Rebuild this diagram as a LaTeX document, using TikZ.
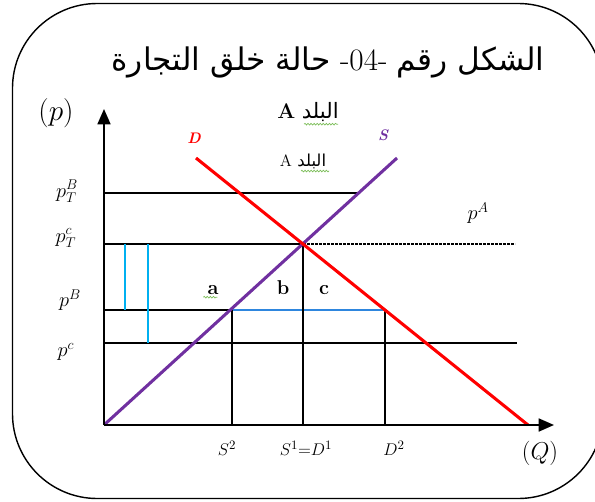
\documentclass[tikz,border=0pt]{standalone}
\usepackage{fontspec}
\usetikzlibrary{arrows.meta,decorations.pathmorphing}
\newfontfamily\arabicfont[Script=Arabic]{DejaVu Sans}
\TeXXeTstate=1
\definecolor{red600}   {HTML}{FF0000}
\definecolor{violet600}{HTML}{7030A0}
\definecolor{cyan500}  {HTML}{00B0F0}
\definecolor{blue500}  {HTML}{2E86DE}
\definecolor{green400} {HTML}{7DBE5A}
\newcommand{\country}[1]{\beginR{\arabicfont البلد} {\rmfamily #1}\endR}
\tikzset{
  frame/.style ={draw=black, line width=1.2pt, rounded corners=72pt},
  axis/.style  ={-{Triangle[length=13pt,width=11pt]}, draw=black,
                 line width=1.6pt},
  hline/.style ={draw=black, line width=1.2pt},
  dotline/.style={draw=black, line width=1.2pt,
                 dash pattern=on 2.4pt off 1pt},
  cyanl/.style ={draw=cyan500, line width=1.5pt},
  bluel/.style ={draw=blue500, line width=1.6pt},
  supply/.style={draw=violet600, line width=2.6pt},
  demand/.style={draw=red600, line width=2.6pt},
  squig/.style ={draw=green400, line width=0.6pt, decorate,
                 decoration={snake, amplitude=0.7pt, segment length=2.6pt}},
  ttl/.style   ={font=\fontsize{26.5}{30}\selectfont, inner sep=0pt},
  plbl/.style  ={font=\fontsize{18}{21}\selectfont, inner sep=0pt},
  qlbl/.style  ={font=\fontsize{15}{18}\selectfont, inner sep=0pt},
  area/.style  ={font=\fontsize{17}{20}\selectfont\bfseries, inner sep=0pt},
  curve/.style ={font=\fontsize{13}{16}\selectfont\bfseries\itshape,
                 inner sep=0pt}
}
\begin{document}
\begin{tikzpicture}[x=0.85pt,y=-0.85pt]
\useasboundingbox (0,0) rectangle (595,501);
\draw[frame] (12.5,3.5) rectangle (603,498.5);

\node[ttl] (title) at (328,62)
  {\beginR{\arabicfont الشكل رقم} \beginL-04-\endL{} {\arabicfont حالة خلق التجارة}\endR};

% points of the market, in pixels of the figure
\coordinate (O)     at (104,425);
\coordinate (ytip)  at (104,109);
\coordinate (xtip)  at (554,425);
\coordinate (E)     at (303,244);
\coordinate (S2)    at (232,310);
\coordinate (D2)    at (385,310);
\coordinate (Stop)  at (397,158);
\coordinate (Dtop)  at (196,158);
\coordinate (Dbot)  at (528,425);
\coordinate (yTB)   at (104,193);
\coordinate (yTc)   at (104,244);
\coordinate (yB)    at (104,310);
\coordinate (yc)    at (104,343);
\coordinate (TBend) at (359,193);
\coordinate (Tcend) at (515,244);
\coordinate (cend)  at (517,343);
\coordinate (xS2)   at (232,425);
\coordinate (xE)    at (303,425);
\coordinate (xD2)   at (385,425);
\coordinate (k1top) at (125,244);
\coordinate (k1bot) at (125,310);
\coordinate (k2top) at (148,244);
\coordinate (k2bot) at (148,343);

\draw[hline]   (yTB) -- (TBend);
\draw[hline]   (yTc) -- (E);
\draw[dotline] (E) -- (Tcend);
\draw[hline]   (yB) -- (S2);
\draw[bluel]   (S2) -- (D2);
\draw[hline]   (yc) -- (cend);
\draw[hline]   (S2) -- (xS2);
\draw[hline]   (E) -- (xE);
\draw[hline]   (D2) -- (xD2);
\draw[cyanl]   (k1top) -- (k1bot);
\draw[cyanl]   (k2top) -- (k2bot);
\draw[supply]  (O) -- (Stop);
\draw[demand]  (Dtop) -- (Dbot);
\draw[axis]    (O) -- (ytip);
\draw[axis]    (O) -- (xtip);

\node[curve, text=red600]    (Dlbl) at (194,138) {D};
\node[curve, text=violet600] (Slbl) at (383,135) {S};
\node[font=\fontsize{18}{21}\selectfont, inner sep=0pt] (cA1) at (308,112)
  {\beginR{\arabicfont البلد} {\rmfamily\bfseries A}\endR};
\node[font=\fontsize{14}{17}\selectfont, inner sep=0pt] (cA2) at (303,161)
  {\country{A}};

\node[font=\fontsize{26}{30}\selectfont, inner sep=0pt] (pax) at (56,113) {$(p)$};
\node[plbl] (pTB) at (67,191) {$p_T^B$};
\node[plbl] (pTc) at (66,238) {$p_T^c$};
\node[plbl] (pB)  at (70,300) {$p^B$};
\node[plbl] (pc)  at (66,352) {$p^c$};
\node[plbl] (pA)  at (478,213) {$p^A$};

\node[area] (a) at (213,290) {a};
\node[area] (b) at (283,288) {b};
\node[area] (c) at (324,290) {c};

\node[qlbl] (q2s) at (227,448) {$S^2$};
\node[qlbl] (q1)  at (306,448) {$S^1{=}D^1$};
\node[qlbl] (q2d) at (394,448) {$D^2$};
\node[font=\fontsize{22}{26}\selectfont, inner sep=0pt] (qax) at (540,453) {$(Q)$};

% spelling marks under the words, as the figure shows them
\draw[squig] ([yshift=-2pt]cA1.south) ++(-4,0) -- ++(34,0);
\draw[squig] ([yshift=-2pt]cA2.south) ++(-2,0) -- ++(28,0);
\draw[squig] ([yshift=-2pt]a.south west) ++(-4,0) -- ++(14,0);
\end{tikzpicture}
\end{document}
